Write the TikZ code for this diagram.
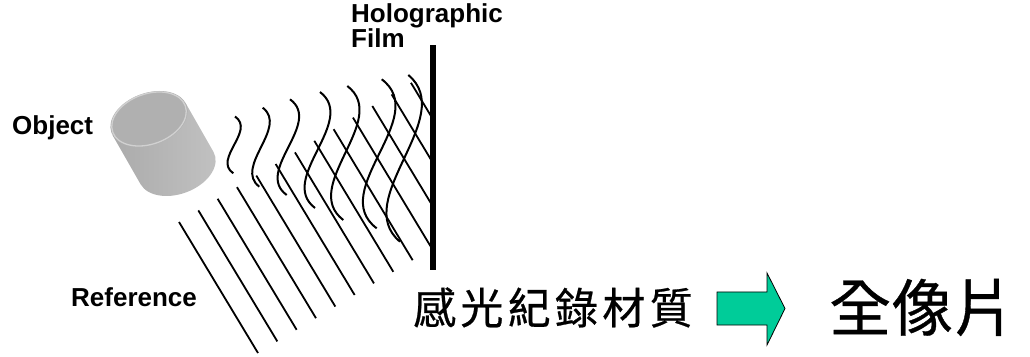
\documentclass[tikz,border=0pt]{standalone}
\usepackage{fontspec}
\setmainfont{Liberation Sans}
\newfontfamily\cjkfont{Noto Sans CJK TC}[FakeBold=0.6]
\newfontfamily\cjkspaced{Noto Sans CJK TC}[LetterSpace=10,FakeBold=0.6]
\definecolor{arrowgreen}{HTML}{00CC99}
\definecolor{cylA}{gray}{0.67}
\definecolor{cylB}{gray}{0.52}
\definecolor{cylC}{gray}{0.76}
\definecolor{cyltop}{gray}{0.69}
\definecolor{cylrim}{gray}{0.82}
\begin{document}
\begin{tikzpicture}[x=1pt,y=1pt,
  tag/.style={font=\bfseries\fontsize{26}{23}\selectfont, inner sep=0, anchor=base west, align=left},
  refwave/.style={line width=1.8pt},
  objwave/.style={line width=2pt},
  film/.style={fill=black},
  blockarrow/.style={fill=arrowgreen, draw=black, line width=0.8pt, line join=miter}
]
\useasboundingbox (0,0) rectangle (1030,356);

% the object: a tilted cylinder, drawn in the frame where its end face is a unit circle
\begin{scope}[cm={37.59,13.68,-8.89,24.43,(149,237)}]
  \shade[left color=cylA, middle color=cylB, right color=cylC]
    (0.9938,0.111) -- ++(0.2389,-2.1395)
    arc[start angle=6.37, end angle=-173.63, radius=1]
    -- (-0.9938,-0.111) -- cycle;
  \fill[cyltop] (0,0) circle[radius=1];
  \draw[cylrim, line width=1.3pt] (0,0) circle[radius=0.965];
\end{scope}

% holographic film
\fill[film] (430,86) rectangle (436,311);

% reference beam: parallel plane wavefronts ending on the film
\begin{scope}
  \clip (0,0) rectangle (430,356);
  \foreach \i in {0,...,12} {
    \coordinate (r\i) at ({179+19.33*\i},{134+11.6*\i});
    \draw[refwave] (r\i) -- ++(79,-131);
  }
\end{scope}

% object beam: curved wavefronts growing towards the film
\foreach \n/\tx/\ty/\bx/\by/\a in {
  1/235/239.5/233.3/182.7/6,
  2/262.7/248.3/259.3/169.3/7.5,
  3/290/256.7/286.7/161/9.5,
  4/320/264/315/148/11,
  5/347.3/270/343.3/136/12.7,
  6/381.7/276.7/376.7/127.7/14.4,
  7/408.3/281/400/114.3/14.5} {
  \pgfmathsetmacro{\h}{3.46*\a}
  \pgfmathsetmacro{\k}{0.25*(\ty-\by)}
  \coordinate (wt\n) at (\tx,\ty);
  \coordinate (wb\n) at (\bx,\by);
  \draw[objwave] (wt\n) .. controls +(\h,-\k) and +(-\h,\k) .. (wb\n);
}

% labels
\node[tag] (object) at (12,221) {Object};
\node[tag] (reference) at (71,49) {Reference};
\node[tag] (filmlabel) at (351,308) {Holographic\\Film};

% caption line
\node[anchor=west, inner sep=0, font=\cjkspaced\fontsize{43}{43}\selectfont] (material) at (413,48.5) {感光紀錄材質};
\draw[blockarrow] (717,64) -- (767,64) -- (767,83) -- (785,47.5) -- (767,11) -- (767,31) -- (717,31) -- cycle;
\node[anchor=west, inner sep=0, font=\cjkfont\fontsize{62}{62}\selectfont] (hologram) at (829,48.5) {全像片};
\end{tikzpicture}
\end{document}
